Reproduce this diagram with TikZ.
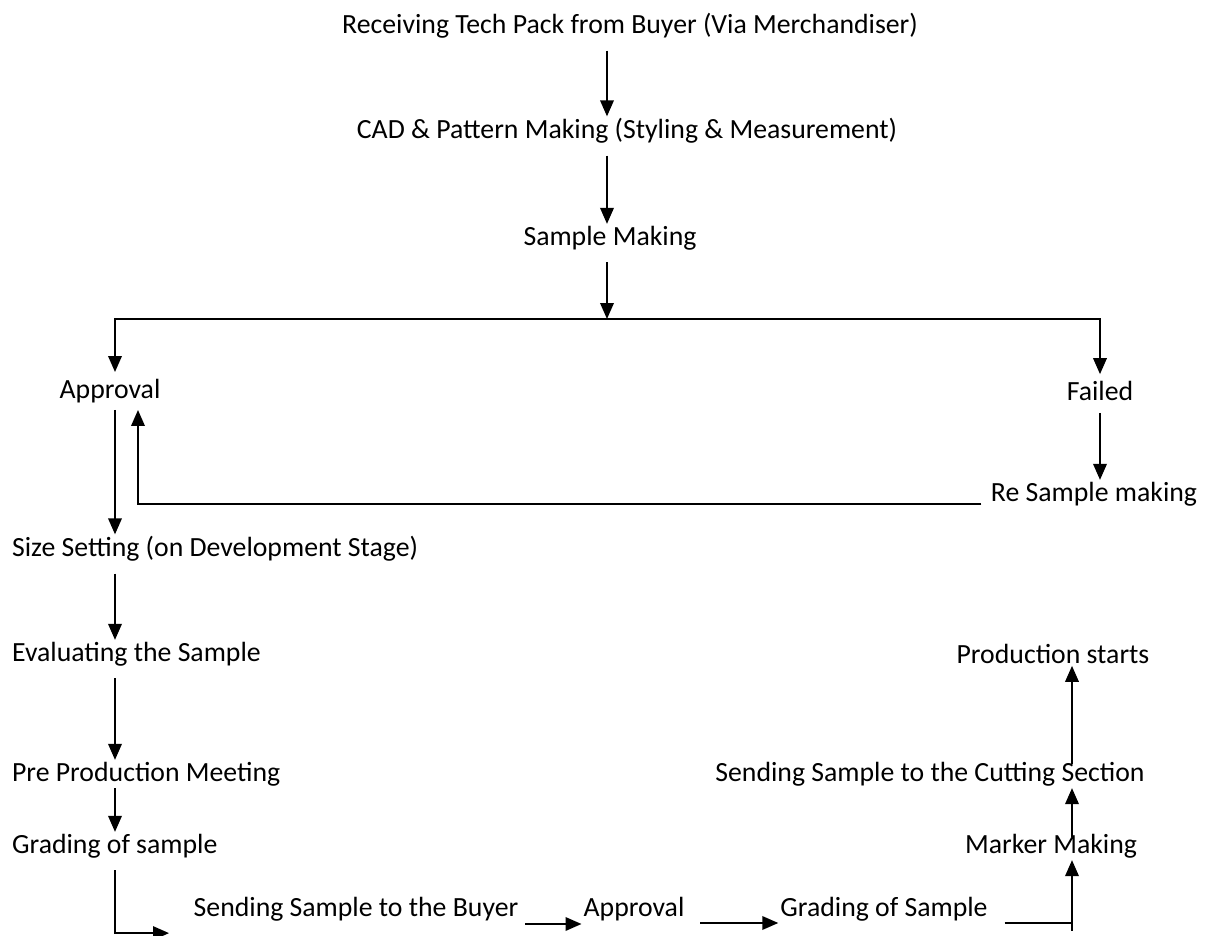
\documentclass[tikz,border=0pt]{standalone}
\usepackage{fontspec}
\setmainfont{Carlito}
\usetikzlibrary{arrows.meta, positioning}

\begin{document}
\begin{tikzpicture}[
  x=0.02cm, y=-0.02cm,
  lbl/.style={inner sep=1pt, font=\fontsize{15.8}{18}\selectfont},
  arr/.style={-{Triangle[width=0.27cm, length=0.32cm]}, line width=1.1pt},
  conn/.style={line width=1.1pt}
]
  \useasboundingbox (0,0) rectangle (1205,936);

  % column guides
  \coordinate (lcol) at (115,0);
  \coordinate (rcol) at (1072,0);
  \coordinate (split) at (607,319);

  \node[lbl] (recv) at (630,26) {Receiving Tech Pack from Buyer (Via Merchandiser)};
  \node[lbl] (cad) at (627,131) {CAD \& Pattern Making (Styling \& Measurement)};
  \node[lbl] (samp) at (610,238) {Sample Making};
  \node[lbl] (appr) at (110,391) {Approval};
  \node[lbl] (fail) at (1100,391) {Failed};
  \node[lbl] (resamp) at (1094,494) {Re Sample making};
  \node[lbl, anchor=west] (size) at (10,549) {Size Setting (on Development Stage)};
  \node[lbl, anchor=west] (eval) at (10,654) {Evaluating the Sample};
  \node[lbl, anchor=west] (ppm) at (10,774) {Pre Production Meeting};
  \node[lbl, anchor=west] (grade) at (10,846) {Grading of sample};
  \node[lbl] (send) at (356,909) {Sending Sample to the Buyer};
  \node[lbl] (appr2) at (634,909) {Approval};
  \node[lbl] (grade2) at (884,909) {Grading of Sample};
  \node[lbl] (marker) at (1051,846) {Marker Making};
  \node[lbl] (cut) at (930,774) {Sending Sample to the Cutting Section};
  \node[lbl] (prod) at (1053,654) {Production starts};

  % top part
  \draw[arr] ([yshift=-0.2cm]recv.south -| split) -- (cad.north -| split);
  \draw[arr] ([yshift=-0.2cm]cad.south -| split) -- (samp.north -| split);
  \draw[arr] ([yshift=-0.2cm]samp.south -| split) -- (split);
  \draw[arr] (split) -| ([yshift=0.1cm]appr.north -| lcol);
  \draw[arr] (split) -| ([yshift=0.1cm]fail.north);
  \draw[arr] ([yshift=-0.2cm]fail.south) -- (fail.south |- resamp.north);
  \draw[arr] ([xshift=-0.15cm, yshift=-0.2cm]resamp.west) -| ([xshift=0.56cm, yshift=-0.1cm]appr.south);

  % left column
  \draw[arr] ([yshift=-0.1cm]appr.south -| lcol) -- (size.north -| lcol);
  \draw[arr] ([yshift=-0.2cm]size.south -| lcol) -- (eval.north -| lcol);
  \draw[arr] ([yshift=-0.2cm]eval.south -| lcol) -- (ppm.north -| lcol);
  \draw[arr] (ppm.south -| lcol) -- (grade.north -| lcol);
  \draw[arr] ([yshift=-0.2cm]grade.south -| lcol) |- ([xshift=-0.45cm, yshift=-0.2cm]send.south west);

  % bottom row
  \draw[arr] ([xshift=0.1cm, yshift=-0.3cm]send.east) -- ([yshift=-0.3cm]appr2.west);
  \draw[arr] ([xshift=0.28cm, yshift=-0.28cm]appr2.east) -- ([yshift=-0.28cm]grade2.west);
  \draw[conn] ([xshift=0.3cm, yshift=-0.28cm]grade2.east) -- ([yshift=-0.28cm]grade2.east -| rcol);
  \draw[arr] ([yshift=-0.44cm]grade2.east -| rcol) -- (marker.south -| rcol);

  % right column
  \draw[arr] ([yshift=-0.1cm]marker.north -| rcol) -- (cut.south -| rcol);
  \draw[arr] ([yshift=0.2cm]cut.center -| rcol) -- (prod.south -| rcol);
\end{tikzpicture}
\end{document}
